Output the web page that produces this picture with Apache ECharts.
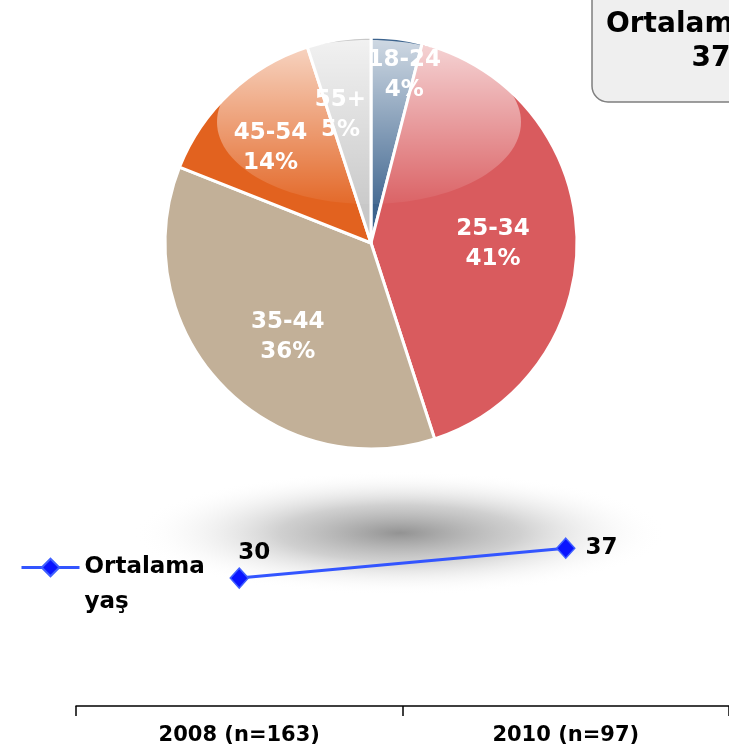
<!DOCTYPE html>
<html><head><meta charset="utf-8">
<script src="https://cdn.jsdelivr.net/npm/echarts@6/dist/echarts.min.js"></script>
<style>html,body{margin:0;padding:0;background:#fff}#c{width:729px;height:750px}</style>
</head><body><div id="c"></div>
<script>
const ageGroups = ['18-24', '25-34', '35-44', '45-54', '55+'];
const agePercents = [4, 41, 36, 14, 5];
const years = ['2008 (n=163)', '2010 (n=97)'];
const meanAge = [30, 37];
const seriesName = 'Ortalama yaş';
const legendLines = ['', 'Ortalama', 'yaş'];
const boxTitle = 'Ortalama yaş';
const boxValue = '37';

const FONT = '"DejaVu Sans", Verdana, sans-serif';
const sliceColors = ['#3d648e', '#d95b5e', '#c2b098', '#e2621f', '#c8c8c8'];
const labelOffsets = [[20, -63], [16, 4], [-6, 21], [-28, -18], [-14, -23]];

const pieData = ageGroups.map((g, i) => ({
  name: g,
  value: agePercents[i],
  itemStyle: {color: sliceColors[i]},
  label: {offset: labelOffsets[i]}
}));

const chart = echarts.init(document.getElementById('c'));
chart.setOption({
  animation: false,
  backgroundColor: '#ffffff',
  legend: {
    left: 20, top: 515, padding: 0,
    itemWidth: 58, itemHeight: 22, itemGap: 6,
    data: [seriesName],
    lineStyle: {width: 3},
    formatter: () => legendLines.join('\n'),
    textStyle: {fontFamily: FONT, fontWeight: 'bold', fontSize: 23, color: '#000', lineHeight: 35}
  },
  grid: {left: 76, right: -5, top: 480, bottom: 44, containLabel: false},
  xAxis: {
    type: 'category', data: years, boundaryGap: true,
    axisLine: {lineStyle: {color: '#000', width: 1.5}},
    axisTick: {show: true, length: 10, lineStyle: {color: '#000', width: 1.5}},
    axisLabel: {fontFamily: FONT, fontWeight: 'bold', fontSize: 21, color: '#000', margin: 19}
  },
  yAxis: {type: 'value', min: 0, max: 53, show: false, splitLine: {show: false}},
  series: [
    {
      type: 'pie', z: 2,
      center: [371, 243], radius: 206,
      startAngle: 90, clockwise: true,
      data: pieData,
      itemStyle: {borderColor: '#fff', borderWidth: 3},
      label: {
        position: 'inside', color: '#fff', fontFamily: FONT, fontWeight: 'bold', fontSize: 23,
        lineHeight: 30, formatter: p => p.name + '\n' + p.value + '%'
      },
      labelLine: {show: false},
      emphasis: {disabled: true}
    },
    {
      type: 'line', name: seriesName, z: 5,
      data: meanAge.map((v, i) => ({
        value: v,
        label: i === 0 ? {position: 'top', offset: [15, 0], distance: 3} : {position: 'right', distance: 10}
      })),
      lineStyle: {color: '#3355ff', width: 3},
      itemStyle: {color: '#0a14ff', borderColor: '#4060ff', borderWidth: 1.5},
      symbol: 'diamond', symbolSize: [18, 20],
      label: {
        show: true, fontFamily: FONT, fontWeight: 'bold', fontSize: 23, color: '#000',
        formatter: p => String(p.value)
      },
      emphasis: {disabled: true}
    }
  ],
  graphic: [
    {
      type: 'circle', z: 1, silent: true,
      x: 400, y: 533, scaleX: 4.3, scaleY: 1,
      shape: {cx: 0, cy: 0, r: 62},
      style: {fill: {type: 'radial', x: 0.5, y: 0.5, r: 0.5, colorStops: [
        {offset: 0, color: 'rgba(110,110,110,0.75)'},
        {offset: 0.45, color: 'rgba(150,150,150,0.45)'},
        {offset: 1, color: 'rgba(255,255,255,0)'}]}}
    },
    {
      type: 'ellipse', z: 3, silent: true,
      shape: {cx: 369, cy: 122, rx: 152, ry: 82},
      style: {fill: {type: 'linear', x: 0, y: 0, x2: 0, y2: 1, colorStops: [
        {offset: 0, color: 'rgba(255,255,255,0.75)'},
        {offset: 0.5, color: 'rgba(255,255,255,0.4)'},
        {offset: 1, color: 'rgba(255,255,255,0.05)'}]}}
    },
    {
      type: 'group', z: 10,
      children: [
        {type: 'rect', shape: {x: 592, y: -20, width: 200, height: 122, r: 16},
         style: {fill: '#efefef', stroke: '#7f7f7f', lineWidth: 1.5}},
        {type: 'text', x: 711, y: 8,
         style: {text: boxTitle + '\n' + boxValue, align: 'center', verticalAlign: 'top',
                 font: 'bold 28px ' + FONT, fill: '#000', lineHeight: 34}}
      ]
    }
  ]
});
</script></body></html>
